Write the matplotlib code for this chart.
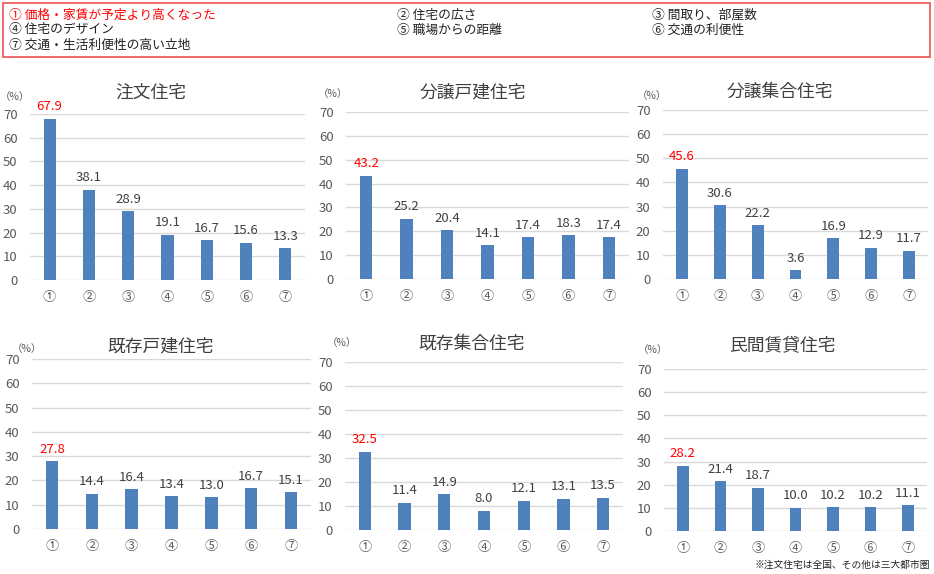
import matplotlib
matplotlib.use("Agg")
import matplotlib.pyplot as plt
from matplotlib.patches import Rectangle

plt.rcParams["font.family"] = ["Noto Sans CJK JP", "DejaVu Sans"]

W, H = 934, 574
BLUE = "#4F81BD"
GREY = "#595959"
GRID = "#D9D9D9"
RED = "#FF0000"

categories = ["①", "②", "③", "④", "⑤", "⑥", "⑦"]
legend_items = [
    "① 価格・家賃が予定より高くなった", "② 住宅の広さ", "③ 間取り、部屋数",
    "④ 住宅のデザイン", "⑤ 職場からの距離", "⑥ 交通の利便性",
    "⑦ 交通・生活利便性の高い立地",
]
titles = ["注文住宅", "分譲戸建住宅", "分譲集合住宅", "既存戸建住宅", "既存集合住宅", "民間賃貸住宅"]
chumon = [67.9, 38.1, 28.9, 19.1, 16.7, 15.6, 13.3]
bunjo_kodate = [43.2, 25.2, 20.4, 14.1, 17.4, 18.3, 17.4]
bunjo_shugo = [45.6, 30.6, 22.2, 3.6, 16.9, 12.9, 11.7]
kizon_kodate = [27.8, 14.4, 16.4, 13.4, 13.0, 16.7, 15.1]
kizon_shugo = [32.5, 11.4, 14.9, 8.0, 12.1, 13.1, 13.5]
chintai = [28.2, 21.4, 18.7, 10.0, 10.2, 10.2, 11.1]
series = [chumon, bunjo_kodate, bunjo_shugo, kizon_kodate, kizon_shugo, chintai]

# pixel layout: left, right, y of 70, y of 0, title (x, y), (%) (x, y)
layout = [
    (30, 305, 114, 280, (151, 93), (15, 97)),
    (346, 629, 112, 279, (473, 92), (333, 94)),
    (663, 928, 110, 279, (780, 92), (652, 96)),
    (32, 311, 359, 529, (161, 346), (27, 349)),
    (345, 623, 362, 530, (472, 344), (342, 343)),
    (664, 927, 369, 531, (782, 345), (653, 350)),
]

fig = plt.figure(figsize=(W / 100, H / 100), dpi=100)

# legend box
fig.patches.append(Rectangle((3 / W, 1 - 57 / H), 927 / W, 54 / H, transform=fig.transFigure,
                             facecolor="white", edgecolor="#F05050", linewidth=1.2))
cols = [9, 397, 652]
rows = [15, 30, 45]
for i, txt in enumerate(legend_items):
    fig.text(cols[i % 3] / W, 1 - rows[i // 3] / H, txt, fontsize=9.2, va="center",
             color=RED if i == 0 else "#222222")

for vals, title, (l, r, y70, y0, tpos, ppos) in zip(series, titles, layout):
    ax = fig.add_axes([l / W, 1 - y0 / H, (r - l) / W, (y0 - y70) / H])
    x = range(len(categories))
    ax.bar(x, vals, width=0.31, color=BLUE, zorder=3)
    ax.set_xlim(-0.5, 6.5)
    ax.set_ylim(0, 70)
    ax.set_yticks(range(0, 71, 10))
    ax.set_xticks(list(x))
    ax.set_xticklabels(categories)
    ax.grid(axis="y", color=GRID, linewidth=1, zorder=0)
    for s in ax.spines.values():
        s.set_visible(False)
    ax.tick_params(length=0, colors=GREY, labelsize=9.5)
    ax.tick_params(axis="x", pad=8)
    ax.tick_params(axis="y", pad=9)
    for i, v in enumerate(vals):
        ax.annotate(f"{v:.1f}", (i, v), xytext=(0, 4), textcoords="offset points",
                    ha="center", va="bottom", fontsize=9.5,
                    color=RED if i == 0 else "#404040")
    fig.text(tpos[0] / W, 1 - tpos[1] / H, title, fontsize=12.8, ha="center", va="center",
             color="#404040")
    fig.text(ppos[0] / W, 1 - ppos[1] / H, "（%）", fontsize=7.5, ha="center", va="center",
             color=GREY)

fig.text(930 / W, 1 - 565 / H, "※注文住宅は全国、その他は三大都市圏", fontsize=7,
         ha="right", va="center", color="#222222")

fig.savefig("out.png", dpi=100)
